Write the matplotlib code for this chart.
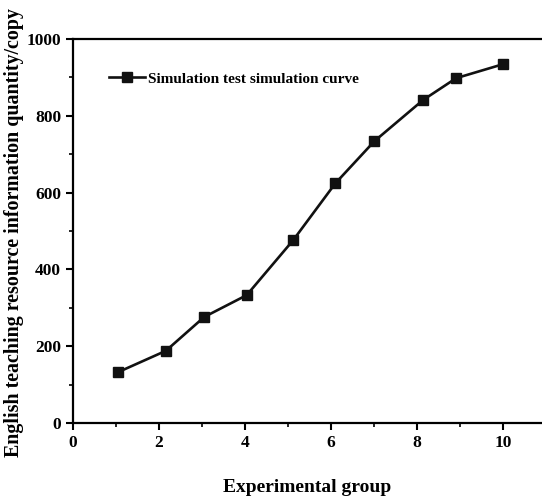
import matplotlib.pyplot as plt
from matplotlib.ticker import MultipleLocator

plt.rcParams['font.family'] = ['Liberation Serif', 'DejaVu Serif']
plt.rcParams['font.weight'] = 'bold'

groups = [1.04, 2.16, 3.05, 4.04, 5.12, 6.10, 7.01, 8.14, 8.91, 9.99]
quantity = [132, 188, 276, 333, 476, 624, 734, 841, 898, 934]

fig = plt.figure(figsize=(5.42, 4.99), dpi=100)
ax = fig.add_axes([73 / 542, 1 - 423 / 499, 469 / 542, 384 / 499])

ax.plot(groups, quantity, color='#111111', lw=1.9, marker='s', ms=6.5,
        label='Simulation test simulation curve')

ax.set_xlim(0, 469 / 43)
ax.set_ylim(0, 1000)
ax.xaxis.set_major_locator(MultipleLocator(2))
ax.xaxis.set_minor_locator(MultipleLocator(1))
ax.yaxis.set_major_locator(MultipleLocator(200))
ax.yaxis.set_minor_locator(MultipleLocator(100))
ax.tick_params(which='major', length=5, width=1.5, labelsize=12.5)
ax.tick_params(which='minor', length=3, width=1.2)
for s in ['left', 'bottom', 'top']:
    ax.spines[s].set_linewidth(1.6)
ax.spines['right'].set_visible(False)

ax.set_xlabel('Experimental group', fontsize=14, fontweight='bold', labelpad=20)
ax.set_ylabel('English teaching resource information quantity/copy', fontsize=14.4,
              fontweight='bold')
ax.yaxis.set_label_coords(-0.104, 0.497)

ax.legend(loc='upper left', frameon=False, bbox_to_anchor=(0.047, 0.95),
          handlelength=2.4, handletextpad=0.15, prop={'weight': 'bold', 'size': 11})

fig.savefig('out.png', dpi=100)
